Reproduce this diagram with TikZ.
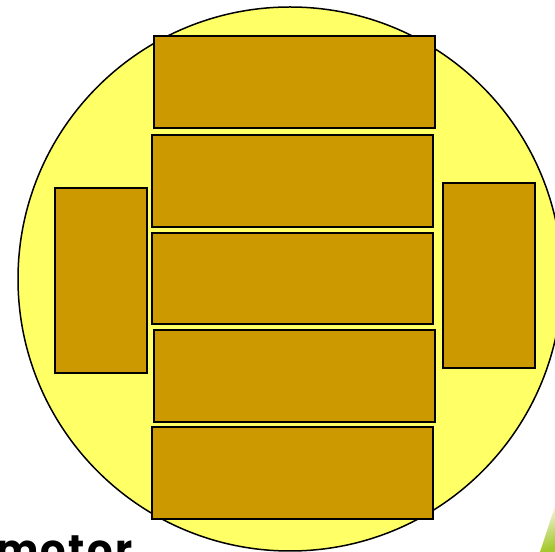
\documentclass[tikz,border=0pt]{standalone}
\usepackage{fontspec}
\newfontfamily\labelfont[LetterSpace=6]{Poppins}
\definecolor{dishyellow}{HTML}{FFFF66}
\definecolor{blockgold}{HTML}{CC9900}
\definecolor{leafgreen}{RGB}{165,200,45}
\begin{document}
\begin{tikzpicture}[x=1pt,y=1pt,
  blockbox/.style={draw=black, fill=blockgold, line width=2pt, inner sep=0pt, outer sep=0pt}]
\useasboundingbox (0,0) rectangle (555,552);
\clip (0,0) rectangle (555,552);
\fill[white] (0,0) rectangle (555,552);
% dish
\draw[fill=dishyellow, line width=1.5pt] (290,273) circle (272);
% center column
\node[blockbox, minimum width=281pt, minimum height=92pt] (r1) at (294,469.5) {};
\node[blockbox, minimum width=281pt, minimum height=92pt] (r2) at (292.3,371.2) {};
\node[blockbox, minimum width=281pt, minimum height=91pt] (r3) at (292.3,273.9) {};
\node[blockbox, minimum width=281pt, minimum height=92pt] (r4) at (294,176) {};
\node[blockbox, minimum width=281pt, minimum height=92pt] (r5) at (292.3,79.2) {};
% side blocks
\node[blockbox, minimum width=92pt, minimum height=185pt] (lb) at (100.5,271) {};
\node[blockbox, minimum width=92pt, minimum height=185pt] (rb) at (488.5,276) {};
% label
\node[anchor=base west, inner sep=0pt, font=\labelfont\bfseries\fontsize{40}{42}\selectfont] (lbl) at (-4,-12) {motor};
% leaf decoration
\shade[top color=white, bottom color=leafgreen, shading angle=20] (540,0) -- (558,55) -- (558,0) -- cycle;
\end{tikzpicture}
\end{document}
